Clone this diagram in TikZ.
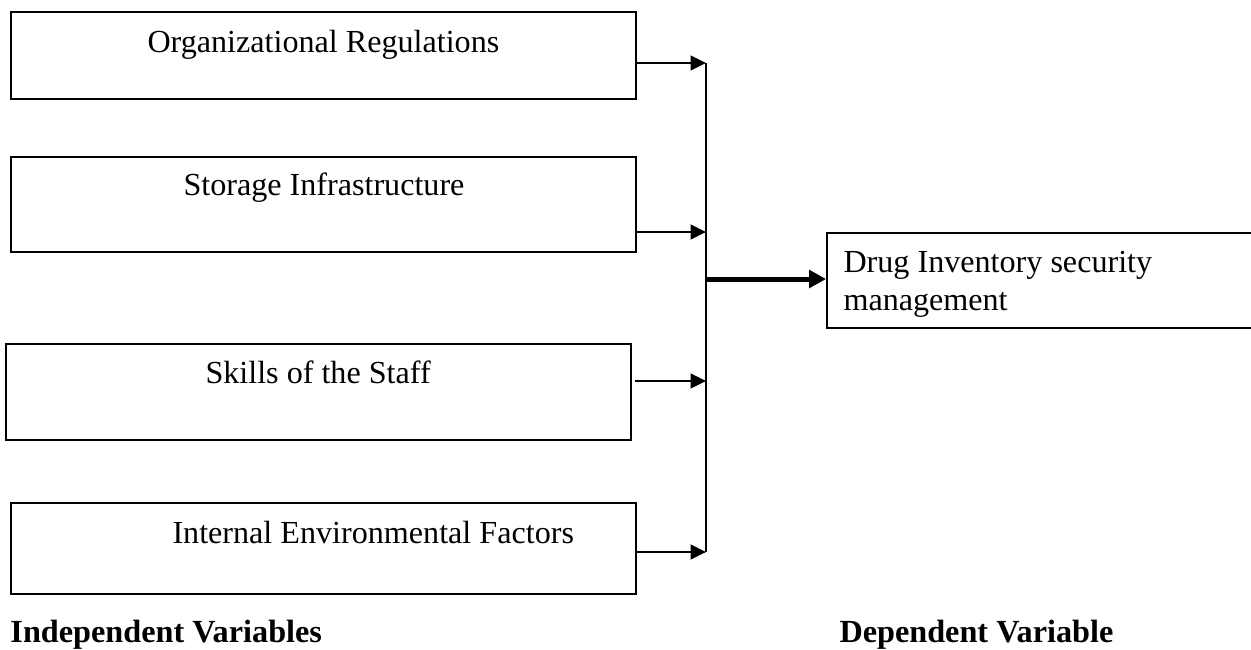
\documentclass[tikz,border=0pt]{standalone}
\usepackage{fontspec}
\setmainfont{Liberation Serif}
\usepackage{tikz}
\usetikzlibrary{arrows.meta}
\tikzstyle{b}=[draw,line width=0.6pt,inner sep=0,anchor=north west,minimum width=250pt]
\tikzstyle{t}=[inner sep=0,anchor=base west,font=\fontsize{12.85}{15}\selectfont]
\tikzstyle{a}=[line width=0.5pt,-{Triangle[length=6.2pt,width=6pt]}]

\begin{document}
\begin{tikzpicture}[x=0.4pt,y=-0.4pt]
    \useasboundingbox (0,0) rectangle (1251,649);
    \clip (0,0) rectangle (1251,649);

                        \node[b,minimum height=34.8pt] (reg) at (10,11) {};
                        \node[b,minimum height=38pt] (sto) at (10,156) {};
                        \node[b,minimum height=38.4pt] (ski) at (5,343) {};
                        \node[b,minimum height=36.4pt] (env) at (10,502) {};
                        \node[b,minimum width=177.6pt,minimum height=38pt] (dv) at (826,232) {};

                        \node[t] (treg) at (147,52) {Organizational Regulations};
                        \node[t] (tsto) at (183,195) {Storage Infrastructure};
                        \node[t] (tski) at (205,383) {Skills of the Staff};
                        \node[t] (tenv) at (172,543) {Internal Environmental Factors};
                        \node[t] (tdv1) at (843,272) {Drug Inventory security};
                        \node[t] (tdv2) at (843,310) {management};

                        \node[t,font=\fontsize{12.9}{15}\selectfont\bfseries] (iv) at (10,642) {Independent Variables};
                        \node[t,font=\fontsize{12.9}{15}\selectfont\bfseries] (dep) at (839,642) {Dependent Variable};

                        \coordinate (j1) at (706,63);
                        \coordinate (j2) at (706,232);
                        \coordinate (j3) at (706,381);
                        \coordinate (j4) at (706,552);
                        \coordinate (jm) at (706,279);

                        \draw[a] (reg.east |- j1) -- (j1);
                        \draw[a] (sto.east |- j2) -- (j2);
                        \draw[a,shorten <=1.2pt] (ski.east |- j3) -- (j3);
                        \draw[a] (env.east |- j4) -- (j4);

                        \draw[line width=0.6pt]
                        (j1) -- (j4)
                        ;

                        \draw[line width=2pt,-{Triangle[length=6.8pt,width=7pt]}] (jm) -- (dv.west |- jm);

    \end{tikzpicture}
\end{document}
